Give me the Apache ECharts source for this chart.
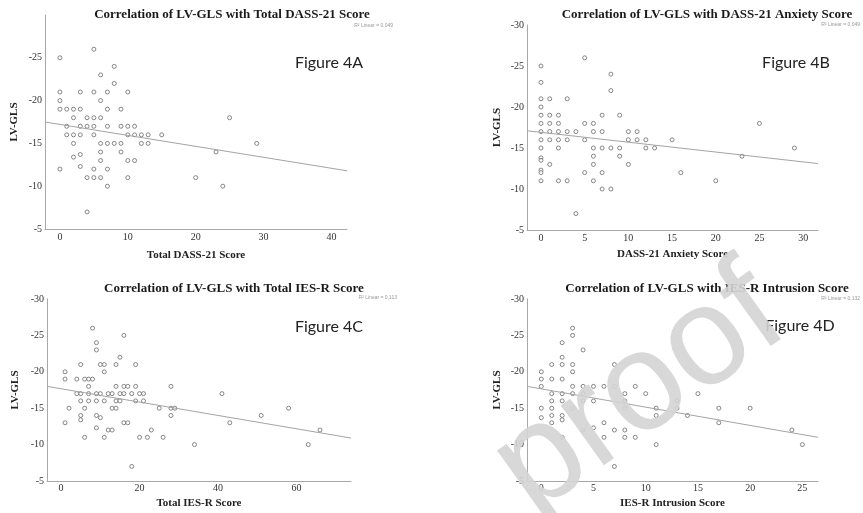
<!DOCTYPE html>
<html>
<head>
<meta charset="utf-8">
<script src="https://cdn.jsdelivr.net/npm/echarts@6/dist/echarts.min.js"></script>
<style>
  html, body { margin: 0; padding: 0; background: #fff; }
  #chart { width: 863px; height: 513px; }
</style>
</head>
<body>
<div id="chart"></div>
<script>
// LV-GLS (y) against each score (x)
var dassTotal = [
  [0,-25],[5,-26],[8,-24],[6,-23],[8,-22],
  [0,-21],[3,-21],[5,-21],[7,-21],[10,-21],
  [0,-20],[6,-20],
  [0,-19],[1,-19],[2,-19],[3,-19],[7,-19],[9,-19],
  [2,-18],[4,-18],[5,-18],[6,-18],[25,-18],
  [1,-17],[3,-17],[4,-17],[5,-17],[7,-17],[9,-17],[10,-17],[11,-17],
  [1,-16],[2,-16],[3,-16],[5,-16],[10,-16],[11,-16],[12,-16],[13,-16],[15,-16],
  [2,-15],[6,-15],[7,-15],[8,-15],[9,-15],[12,-15],[13,-15],[29,-15],
  [6,-14],[9,-14],[23,-14],[2,-13.4],[3,-13.7],
  [6,-13],[10,-13],[11,-13],
  [3,-12.3],[0,-12],[5,-12],[7,-12],
  [4,-11],[5,-11],[6,-11],[10,-11],[20,-11],
  [7,-10],[24,-10],
  [4,-7]
]
var dassAnxiety = [
  [0,-25],[0,-23],[5,-26],[8,-24],[8,-22],
  [0,-21],[1,-21],[3,-21],
  [0,-20],
  [0,-19],[1,-19],[2,-19],[7,-19],[9,-19],
  [0,-18],[1,-18],[2,-18],[5,-18],[6,-18],[25,-18],
  [0,-17],[1,-17],[2,-17],[3,-17],[4,-17],[6,-17],[7,-17],[10,-17],[11,-17],
  [0,-16],[1,-16],[2,-16],[3,-16],[5,-16],[10,-16],[11,-16],[12,-16],[15,-16],
  [0,-15],[2,-15],[6,-15],[7,-15],[8,-15],[9,-15],[12,-15],[13,-15],[29,-15],
  [6,-14],[9,-14],[23,-14],[0,-13.8],[0,-13.5],
  [1,-13],[6,-13],[10,-13],
  [0,-12.3],[0,-12],[5,-12],[7,-12],[16,-12],
  [0,-11],[2,-11],[3,-11],[6,-11],[20,-11],
  [7,-10],[8,-10],
  [4,-7]
]
var iesTotal = [
  [8,-26],[16,-25],[9,-24],[9,-23],[15,-22],
  [5,-21],[10,-21],[11,-21],[14,-21],[19,-21],
  [1,-20],[11,-20],
  [1,-19],[4,-19],[6,-19],[7,-19],[8,-19],
  [7,-18],[14,-18],[16,-18],[17,-18],[19,-18],[28,-18],
  [4,-17],[5,-17],[7,-17],[9,-17],[10,-17],[12,-17],[13,-17],[15,-17],[16,-17],[18,-17],[20,-17],[21,-17],[41,-17],
  [5,-16],[7,-16],[9,-16],[11,-16],[14,-16],[15,-16],[19,-16],[21,-16],
  [2,-15],[6,-15],[13,-15],[14,-15],[25,-15],[28,-15],[29,-15],[58,-15],
  [5,-14],[9,-14],[28,-14],[51,-14],[10,-13.7],[5,-13.4],
  [1,-13],[16,-13],[17,-13],[43,-13],
  [9,-12.3],[12,-12],[13,-12],[23,-12],[66,-12],
  [6,-11],[11,-11],[20,-11],[22,-11],[26,-11],
  [34,-10],[63,-10],
  [18,-7]
]
var iesIntrusion = [
  [3,-26],[3,-25],[2,-24],[4,-23],[2,-22],
  [1,-21],[2,-21],[3,-21],[7,-21],
  [0,-20],[3,-20],
  [0,-19],[1,-19],[2,-19],
  [0,-18],[3,-18],[4,-18],[5,-18],[6,-18],[7,-18],[9,-18],
  [1,-17],[2,-17],[3,-17],[4,-17],[8,-17],[10,-17],[15,-17],
  [1,-16],[2,-16],[4,-16],[5,-16],[8,-16],[13,-16],
  [0,-15],[1,-15],[3,-15],[8,-15],[11,-15],[13,-15],[17,-15],[20,-15],
  [1,-14],[2,-14],[11,-14],[14,-14],[0,-13.7],[2,-13.4],
  [1,-13],[6,-13],[17,-13],
  [5,-12.3],[4,-12],[7,-12],[8,-12],[24,-12],
  [2,-11],[6,-11],[8,-11],[9,-11],
  [11,-10],[25,-10],
  [7,-7]
]

// fit line ends as drawn (x at the axis ends)
var fitLines = [
  [[-2.2,-17.5],[42.3,-11.8]],
  [[-1.6,-17.1],[31.7,-13.1]],
  [[-3.6,-18.0],[73.9,-10.9]],
  [[-1.37,-18.0],[26.5,-11.0]]
]
var xRanges = [[-2.2,42.3],[-1.6,31.7],[-3.6,73.9],[-1.37,26.5]]
var xSteps = [10, 5, 20, 5]
var yTicks = [-30, -25, -20, -15, -10, -5]

var titles = [
  'Correlation of LV-GLS with Total DASS-21 Score',
  'Correlation of LV-GLS with DASS-21 Anxiety Score',
  'Correlation of LV-GLS with Total IES-R Score',
  'Correlation of LV-GLS with IES-R Intrusion Score'
]
var xNames = ['Total DASS-21 Score', 'DASS-21 Anxiety Score', 'Total IES-R Score', 'IES-R Intrusion Score']
var figLabels = ['Figure 4A', 'Figure 4B', 'Figure 4C', 'Figure 4D']
var r2Labels = ['R² Linear = 0,049', 'R² Linear = 0,049', 'R² Linear = 0,113', 'R² Linear = 0,132']

var panels = [dassTotal, dassAnxiety, iesTotal, iesIntrusion]

var serif = '"Liberation Serif", "DejaVu Serif", serif'
var grids = [
  { left: 45, top: 15, width: 302, height: 214 },
  { left: 527, top: 25, width: 291, height: 205 },
  { left: 47, top: 299, width: 304, height: 182 },
  { left: 527, top: 299, width: 291, height: 182 }
]
var titlePos = [[232, 15], [707, 15], [234, 289], [707, 289]]
var figPos = [[329, 63], [796, 63], [329, 327], [800, 326]]
var r2Pos = [[393, 26], [860, 25], [397, 298], [860, 299]]
var xNameGap = [21, 19, 17, 17]
var yNameGap = [25, 24, 26, 24]
var xLabelMargin = [3, 3, 2, 2]

var chart = echarts.init(document.getElementById('chart'))

var xAxis = [], yAxis = [], series = [], graphic = []
panels.forEach(function(pts, i) {
  xAxis.push({
    gridIndex: i,
    type: 'value',
    min: xRanges[i][0],
    max: xRanges[i][1],
    name: xNames[i],
    nameLocation: 'middle',
    nameGap: xNameGap[i],
    nameTextStyle: { fontFamily: serif, fontWeight: 'bold', fontSize: 11, color: '#222' },
    axisLine: { show: true, onZero: false, lineStyle: { color: '#a8a8a8', width: 1 } },
    axisTick: { show: false },
    splitLine: { show: false },
    axisLabel: {
      fontFamily: serif, fontSize: 10, color: '#333', margin: xLabelMargin[i],
      formatter: function(v) {
        var r = v / xSteps[i]
        return Math.abs(r - Math.round(r)) < 1e-6 ? String(Math.round(v)) : ''
      }
    }
  })
  yAxis.push({
    gridIndex: i,
    type: 'value',
    inverse: true,
    min: yTicks[0],
    max: yTicks[yTicks.length - 1],
    interval: 5,
    name: 'LV-GLS',
    nameLocation: 'middle',
    nameGap: yNameGap[i],
    nameTextStyle: { fontFamily: serif, fontWeight: 'bold', fontSize: 11, color: '#222' },
    axisLine: { show: true, onZero: false, lineStyle: { color: '#a8a8a8', width: 1 } },
    axisTick: { show: false },
    splitLine: { show: false },
    axisLabel: {
      fontFamily: serif, fontSize: 10, color: '#333', margin: 3,
      formatter: function(v) {
        // top panel A stops short of -30
        if (i === 0 && v === -30) return ''
        return String(v)
      }
    }
  })
  series.push({
    type: 'scatter',
    xAxisIndex: i,
    yAxisIndex: i,
    data: pts,
    symbol: 'circle',
    symbolSize: 4,
    itemStyle: { color: '#fff', borderColor: '#6a6a6a', borderWidth: 1 },
    silent: true
  })
  series.push({
    type: 'line',
    xAxisIndex: i,
    yAxisIndex: i,
    data: fitLines[i],
    showSymbol: false,
    lineStyle: { color: '#a4a4a4', width: 1 },
    silent: true
  })
  graphic.push({
    type: 'text', x: titlePos[i][0], y: titlePos[i][1],
    style: { text: titles[i], font: 'bold 13px ' + serif, fill: '#1a1a1a',
      textAlign: 'center', align: 'center', textVerticalAlign: 'middle', verticalAlign: 'middle' }
  })
  graphic.push({
    type: 'text', x: figPos[i][0], y: figPos[i][1],
    style: { text: figLabels[i], font: '16px Lato, "Open Sans", sans-serif', fill: '#222',
      textAlign: 'center', align: 'center', textVerticalAlign: 'middle', verticalAlign: 'middle' }
  })
  graphic.push({
    type: 'text', x: r2Pos[i][0], y: r2Pos[i][1],
    style: { text: r2Labels[i], font: '5px "Liberation Sans", sans-serif', fill: '#999',
      textAlign: 'right', align: 'right', textVerticalAlign: 'middle', verticalAlign: 'middle' }
  })
})

// journal "proof" watermark over panel D
graphic.push({
  type: 'text', x: 640, y: 392, rotation: 0.62, z: 100,
  style: { text: 'proof', font: '140px "Liberation Sans", sans-serif', fill: 'rgba(212,212,212,0.9)',
    textAlign: 'center', align: 'center', textVerticalAlign: 'middle', verticalAlign: 'middle' }
})

chart.setOption({
  animation: false,
  backgroundColor: '#fff',
  grid: grids,
  xAxis: xAxis,
  yAxis: yAxis,
  series: series,
  graphic: graphic
})
</script>
</body>
</html>
